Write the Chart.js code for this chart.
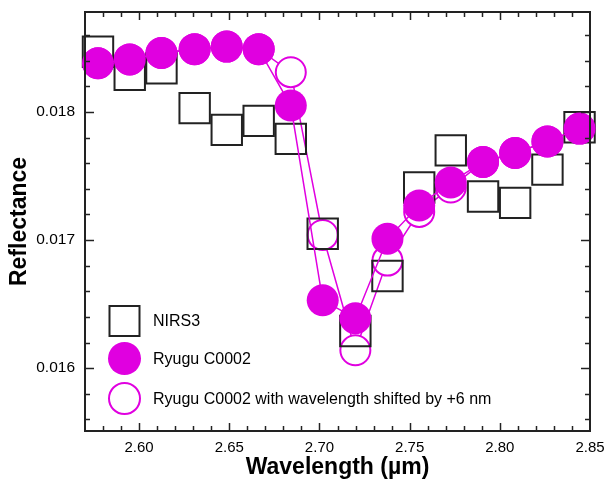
<!DOCTYPE html>
<html><head><meta charset="utf-8">
<script src="https://cdn.jsdelivr.net/npm/chart.js@4"></script>
<style>html,body{margin:0;padding:0;background:#fff}#wrap{width:607px;height:479px;position:relative}canvas{display:block}</style>
</head><body><div id="wrap"><canvas id="c" width="607" height="479" style="width:607px;height:479px"></canvas></div>
<script>
const wavelengths = [2.5772, 2.5948, 2.6124, 2.6308, 2.6486, 2.6663, 2.6841, 2.7018, 2.7199, 2.7377, 2.7553, 2.7728, 2.7907, 2.8085, 2.8264, 2.8442];
const nirs3 = [0.01847, 0.01829, 0.01834, 0.01803, 0.01786, 0.01793, 0.01779, 0.01705, 0.01629, 0.01672, 0.01741, 0.01770, 0.01734, 0.01729, 0.01755, 0.01788];
const ryugu = [0.01838, 0.01841, 0.01846, 0.01849, 0.01851, 0.01849, 0.01805, 0.01653, 0.01639, 0.01701, 0.01727, 0.01745, 0.01761, 0.01768, 0.01777, 0.01787];
const ryuguShifted = [0.01838, 0.01841, 0.01846, 0.01849, 0.01851, 0.01849, 0.01831, 0.01704, 0.01614, 0.01684, 0.01722, 0.01741, 0.01761, 0.01768, 0.01777, 0.01787];
const xTickLabels = ['2.60', '2.65', '2.70', '2.75', '2.80', '2.85'];
const yTickLabels = ['0.016', '0.017', '0.018'];
const legendLabels = ['NIRS3', 'Ryugu C0002', 'Ryugu C0002 with wavelength shifted by +6 nm'];
const xTitle = 'Wavelength (\u00b5m)';
const yTitle = 'Reflectance';

const MAG = '#e000e0';
const INK = '#222222';
const FONT = "'Liberation Sans', Arial, sans-serif";

const pts = arr => wavelengths.map((w, i) => ({x: w, y: arr[i]}));
const noPad = s => { s.paddingTop = 0; s.paddingBottom = 0; s.paddingLeft = 0; s.paddingRight = 0; };

const frame = {
  id: 'frame',
  afterDatasetsDraw(chart) {
    const {ctx, chartArea: a, scales: {x, y}} = chart;
    ctx.save();
    ctx.strokeStyle = INK;
    ctx.lineWidth = 1.5;
    const seg = (x1, y1, x2, y2) => { ctx.beginPath(); ctx.moveTo(x1, y1); ctx.lineTo(x2, y2); ctx.stroke(); };
    const xMaj = xTickLabels.map(Number);
    for (let k = 258; k <= 284; k++) {
      const v = k / 100;
      const maj = xMaj.some(m => Math.abs(m - v) < 1e-9);
      const len = maj ? 8 : 5;
      const px = Math.round(x.getPixelForValue(v)) + 0.5;
      seg(px, a.bottom, px, a.bottom - len);
      seg(px, a.top, px, a.top + len);
    }
    const yMaj = yTickLabels.map(Number);
    for (let k = 78; k <= 93; k++) {
      const v = k * 0.0002;
      if (v <= y.min || v >= y.max) continue;
      const maj = yMaj.some(m => Math.abs(m - v) < 1e-9);
      const len = maj ? 9 : 5;
      const py = Math.round(y.getPixelForValue(v)) + 0.5;
      seg(a.left, py, a.left + len, py);
      seg(a.right, py, a.right - len, py);
    }
    ctx.lineWidth = 2;
    ctx.strokeRect(a.left, a.top, a.right - a.left, a.bottom - a.top);

    // legend
    const lx = 124.5, ly = [321, 358.5, 398.5], tx = 153;
    ctx.lineWidth = 2;
    ctx.strokeStyle = INK;
    ctx.strokeRect(lx - 15, ly[0] - 15, 30, 30);
    ctx.fillStyle = MAG;
    ctx.beginPath(); ctx.arc(lx, ly[1], 16.5, 0, Math.PI * 2); ctx.fill();
    ctx.strokeStyle = MAG;
    ctx.beginPath(); ctx.arc(lx, ly[2], 15.5, 0, Math.PI * 2); ctx.stroke();
    ctx.fillStyle = '#000';
    ctx.font = '16px ' + FONT;
    ctx.textBaseline = 'middle';
    ctx.textAlign = 'left';
    legendLabels.forEach((t, i) => ctx.fillText(t, tx, ly[i] + 1));
    ctx.restore();
  }
};

new Chart(document.getElementById('c'), {
  type: 'scatter',
  data: {
    datasets: [
      {
        label: legendLabels[0], data: pts(nirs3), showLine: false, order: 2, clip: false,
        pointStyle: 'rect', pointRadius: 21.5, pointHoverRadius: 21.5,
        borderColor: INK, borderWidth: 2, pointBackgroundColor: 'rgba(0,0,0,0)', backgroundColor: 'rgba(0,0,0,0)'
      },
      {
        label: legendLabels[1], data: pts(ryugu), showLine: true, order: 1, clip: false,
        pointStyle: 'circle', pointRadius: 16, pointHoverRadius: 16,
        borderColor: MAG, borderWidth: 1.5, pointBorderWidth: 0, pointBackgroundColor: MAG, backgroundColor: MAG
      },
      {
        label: legendLabels[2], data: pts(ryuguShifted), showLine: true, order: 3, clip: false,
        pointStyle: 'circle', pointRadius: 15, pointHoverRadius: 15,
        borderColor: MAG, borderWidth: 1.5, pointBorderWidth: 2, pointBorderColor: MAG, pointBackgroundColor: '#ffffff', backgroundColor: '#ffffff'
      }
    ]
  },
  options: {
    responsive: false,
    animation: false,
    devicePixelRatio: 1,
    layout: {autoPadding: false, padding: {top: 12, right: 17, left: 0, bottom: 0}},
    plugins: {legend: {display: false}, tooltip: {enabled: false}},
    elements: {line: {tension: 0}},
    scales: {
      x: {
        type: 'linear', min: 2.57, max: 2.85,
        afterBuildTicks: s => { s.ticks = xTickLabels.map(v => ({value: Number(v)})); },
        afterFit: s => { s.height = 48; noPad(s); },
        grid: {display: false, drawTicks: false},
        border: {display: false},
        ticks: {padding: 8, color: '#000', font: {family: FONT, size: 15}, maxRotation: 0,
          callback: (v, i) => xTickLabels[i]},
        title: {display: true, text: xTitle, color: '#000', padding: {top: 0, bottom: 0},
          font: {family: FONT, size: 23, weight: 'bold', lineHeight: 1}}
      },
      y: {
        type: 'linear', min: 0.01551, max: 0.01878,
        afterBuildTicks: s => { s.ticks = yTickLabels.map(v => ({value: Number(v)})); },
        afterFit: s => { s.width = 85; noPad(s); },
        grid: {display: false, drawTicks: false},
        border: {display: false},
        ticks: {padding: 10, color: '#000', font: {family: FONT, size: 15.5},
          callback: (v, i) => yTickLabels[i]},
        title: {display: true, text: yTitle, color: '#000', padding: {top: 8.5, bottom: 0},
          font: {family: FONT, size: 23, weight: 'bold', lineHeight: 1}}
      }
    }
  },
  plugins: [frame]
});
</script></body></html>
